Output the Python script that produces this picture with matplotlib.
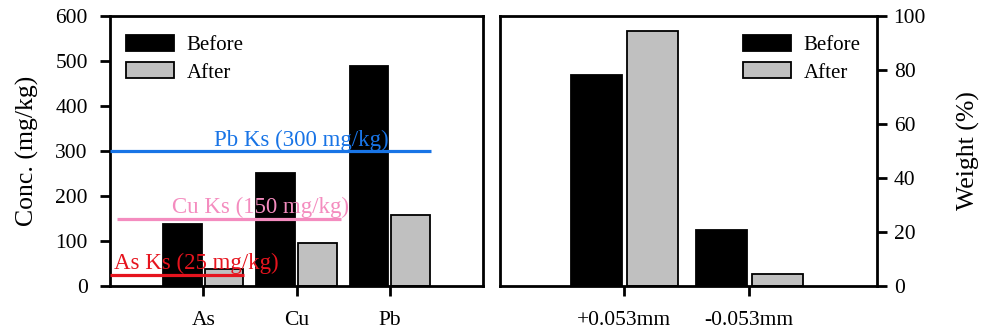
import matplotlib
matplotlib.use("Agg")
import matplotlib.pyplot as plt
import numpy as np

plt.rcParams['font.family'] = ['Liberation Serif', 'DejaVu Serif']
plt.rcParams['font.size'] = 15

# Heavy-metal concentrations (mg/kg)
elements = ["As", "Cu", "Pb"]
conc_before = [138, 251, 490]
conc_after = [38, 96, 157]

# Regulatory standards (mg/kg)
ks_labels = ["As Ks (25 mg/kg)", "Cu Ks (150 mg/kg)", "Pb Ks (300 mg/kg)"]
ks_values = [25, 150, 300]

# Particle size weight fractions (%)
sizes = ["+0.053mm", "-0.053mm"]
weight_before = [78.0, 20.7]
weight_after = [94.6, 4.3]

BLACK = "#000000"
GRAY = "#c0c0c0"
ks_colors = ["#e6141e", "#f48cbf", "#1874e6"]

TICK_FS = 15.5
LABEL_FS = 18.5
KS_FS = 16.5
LEG_FS = 15

fig = plt.figure(figsize=(9.81, 3.31), dpi=100)
ax1 = fig.add_axes([110/981, 45/331, 373/981, 270/331])
ax2 = fig.add_axes([500/981, 45/331, 377/981, 270/331])

def style_axes(ax, ypad):
    for s in ax.spines.values():
        s.set_linewidth(2.0)
    ax.tick_params(axis='both', width=2.0, length=7.5, direction='out', labelsize=TICK_FS)
    ax.tick_params(axis='x', pad=10.5)
    ax.tick_params(axis='y', pad=ypad)

# Left panel: concentrations
x1 = np.arange(1, len(elements) + 1)
w1 = 0.415
ax1.bar(x1 - 0.223, conc_before, w1, color=BLACK, edgecolor=BLACK, linewidth=1.3, label="Before", zorder=2)
ax1.bar(x1 + 0.223, conc_after, w1, color=GRAY, edgecolor=BLACK, linewidth=1.3, label="After", zorder=2)

ks_spans = [(0.0, 1.44), (0.07, 2.48), (0.0, 3.44)]
ks_text_pos = [(0.04, 38), (0.67, 163), (1.12, 311)]
for val, lab, col, (xa, xb), (tx, ty) in zip(ks_values, ks_labels, ks_colors, ks_spans, ks_text_pos):
    ax1.plot([xa, xb], [val, val], color=col, linewidth=2.3, zorder=3, solid_capstyle='butt')
    ax1.text(tx, ty, lab, color=col, fontsize=KS_FS, va='baseline', ha='left', zorder=4)

ax1.set_xlim(0, 4)
ax1.set_ylim(0, 600)
ax1.set_xticks(x1)
ax1.set_xticklabels(elements)
ax1.set_yticks(np.arange(0, 601, 100))
ax1.set_ylabel("Conc. (mg/kg)", fontsize=LABEL_FS, labelpad=12)
style_axes(ax1, 8.5)
ax1.legend(loc='upper left', bbox_to_anchor=(16/373, 251/270), frameon=False,
           borderaxespad=0, borderpad=0, handlelength=2.3, handleheight=0.8,
           handletextpad=0.6, labelspacing=0.35, fontsize=LEG_FS)

# Right panel: weight fractions
x2 = np.arange(1, len(sizes) + 1)
w2 = 0.41
ax2.bar(x2 - 0.222, weight_before, w2, color=BLACK, edgecolor=BLACK, linewidth=1.3, label="Before", zorder=2)
ax2.bar(x2 + 0.228, weight_after, w2, color=GRAY, edgecolor=BLACK, linewidth=1.3, label="After", zorder=2)
ax2.set_xlim(0, 3.03)
ax2.set_ylim(0, 100)
ax2.set_xticks(x2)
ax2.set_xticklabels(sizes)
ax2.set_yticks(np.arange(0, 101, 20))
ax2.yaxis.tick_right()
ax2.yaxis.set_label_position('right')
ax2.set_ylabel("Weight (%)", fontsize=LABEL_FS, labelpad=22)
style_axes(ax2, 4.5)
ax2.legend(loc='upper left', bbox_to_anchor=(243/377, 251/270), frameon=False,
           borderaxespad=0, borderpad=0, handlelength=2.3, handleheight=0.8,
           handletextpad=0.6, labelspacing=0.35, fontsize=LEG_FS)

fig.savefig("out.png", dpi=100)
